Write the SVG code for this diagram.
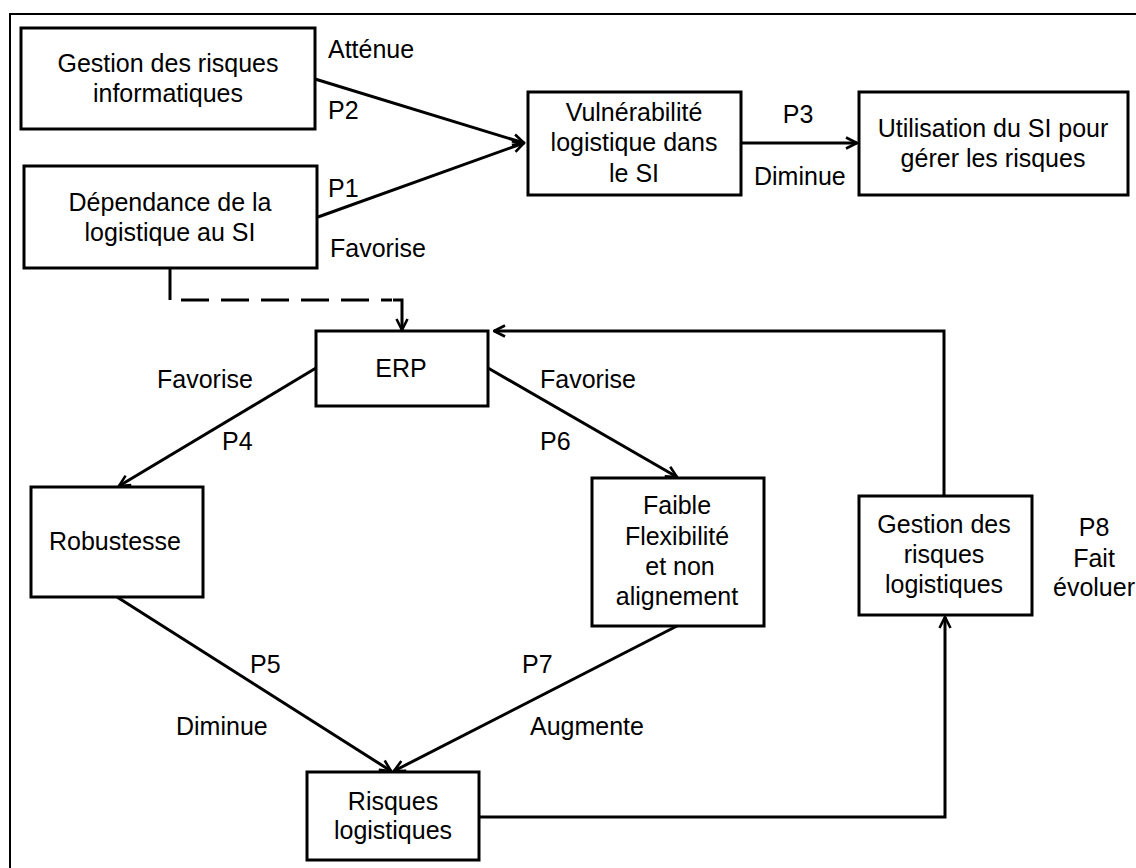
<svg xmlns="http://www.w3.org/2000/svg" width="1136" height="868" viewBox="0 0 1136 868">
<defs>
<style>
.box{fill:#fff;stroke:#000;stroke-width:3}
.t{font-family:"Liberation Sans",Arial,sans-serif;font-size:25px;fill:#000}
.m{text-anchor:middle}
.c{fill:none;stroke:#000;stroke-width:3}
</style>
<marker id="ah" viewBox="0 0 14 14" refX="12.5" refY="7" markerWidth="14" markerHeight="14" markerUnits="userSpaceOnUse" orient="auto">
<path d="M1.5,1.5 L12.5,7 L1.5,12.5" fill="none" stroke="#000" stroke-width="2.6"/>
</marker>
</defs>
<rect width="1136" height="868" fill="#fff"/>
<rect x="10" y="14" width="1200" height="900" fill="none" stroke="#000" stroke-width="2"/>

<g id="connectors">
<path class="c" d="M315,79 L524,143" marker-end="url(#ah)"/>
<path class="c" d="M318,217 L524,143" marker-end="url(#ah)"/>
<path class="c" d="M741,143 L857,143" marker-end="url(#ah)"/>
<path class="c" d="M170,268 V300"/>
<path class="c" d="M181,300 H392" stroke-dasharray="28 12"/>
<path class="c" d="M393,300 H402 V330" marker-end="url(#ah)"/>
<path class="c" d="M944,496 V331 H494" marker-end="url(#ah)"/>
<path class="c" d="M316,368 L119,486" marker-end="url(#ah)"/>
<path class="c" d="M488,368 L677,477" marker-end="url(#ah)"/>
<path class="c" d="M117,597 L391,771" marker-end="url(#ah)"/>
<path class="c" d="M677,626 L394,771" marker-end="url(#ah)"/>
<path class="c" d="M479,817 H945 V617" marker-end="url(#ah)"/>
</g>

<g id="labels" class="t">
<text x="328" y="58">Atténue</text>
<text x="328" y="119">P2</text>
<text x="328" y="197">P1</text>
<text x="330" y="257">Favorise</text>
<text x="798" y="123" class="m">P3</text>
<text x="754" y="185">Diminue</text>
<text x="157" y="388">Favorise</text>
<text x="222" y="450">P4</text>
<text x="540" y="388">Favorise</text>
<text x="540" y="450">P6</text>
<text x="250" y="673">P5</text>
<text x="176" y="735">Diminue</text>
<text x="522" y="673">P7</text>
<text x="530" y="735">Augmente</text>
<text x="1094" y="536" class="m">P8</text>
<text x="1094" y="567" class="m">Fait</text>
<text x="1094" y="596" class="m">évoluer</text>
</g>

<g id="n-gestion-info">
<rect class="box" x="21" y="28" width="294" height="101"/>
<text class="t m" x="168" y="72">Gestion des risques</text>
<text class="t m" x="168" y="102">informatiques</text>
</g>
<g id="n-dependance">
<rect class="box" x="24" y="166" width="293" height="102"/>
<text class="t m" x="170" y="211">Dépendance de la</text>
<text class="t m" x="170" y="241">logistique au SI</text>
</g>
<g id="n-vulnerabilite">
<rect class="box" x="528" y="92" width="213" height="103"/>
<text class="t m" x="634" y="121">Vulnérabilité</text>
<text class="t m" x="634" y="151">logistique dans</text>
<text class="t m" x="634" y="182">le SI</text>
</g>
<g id="n-utilisation">
<rect class="box" x="859" y="92" width="269" height="103"/>
<text class="t m" x="993" y="137">Utilisation du SI pour</text>
<text class="t m" x="993" y="167">gérer les risques</text>
</g>
<g id="n-erp">
<rect class="box" x="316" y="331" width="172" height="75"/>
<text class="t m" x="401" y="377">ERP</text>
</g>
<g id="n-robustesse">
<rect class="box" x="31" y="487" width="172" height="110"/>
<text class="t m" x="115" y="550">Robustesse</text>
</g>
<g id="n-faible">
<rect class="box" x="592" y="478" width="172" height="148"/>
<text class="t m" x="677" y="514">Faible</text>
<text class="t m" x="677" y="545">Flexibilité</text>
<text class="t m" x="680" y="575">et non</text>
<text class="t m" x="677" y="605">alignement</text>
</g>
<g id="n-gestion-log">
<rect class="box" x="859" y="496" width="173" height="119"/>
<text class="t m" x="944" y="533">Gestion des</text>
<text class="t m" x="944" y="563">risques</text>
<text class="t m" x="944" y="593">logistiques</text>
</g>
<g id="n-risques">
<rect class="box" x="307" y="772" width="172" height="88"/>
<text class="t m" x="393" y="810">Risques</text>
<text class="t m" x="393" y="839">logistiques</text>
</g>
</svg>
